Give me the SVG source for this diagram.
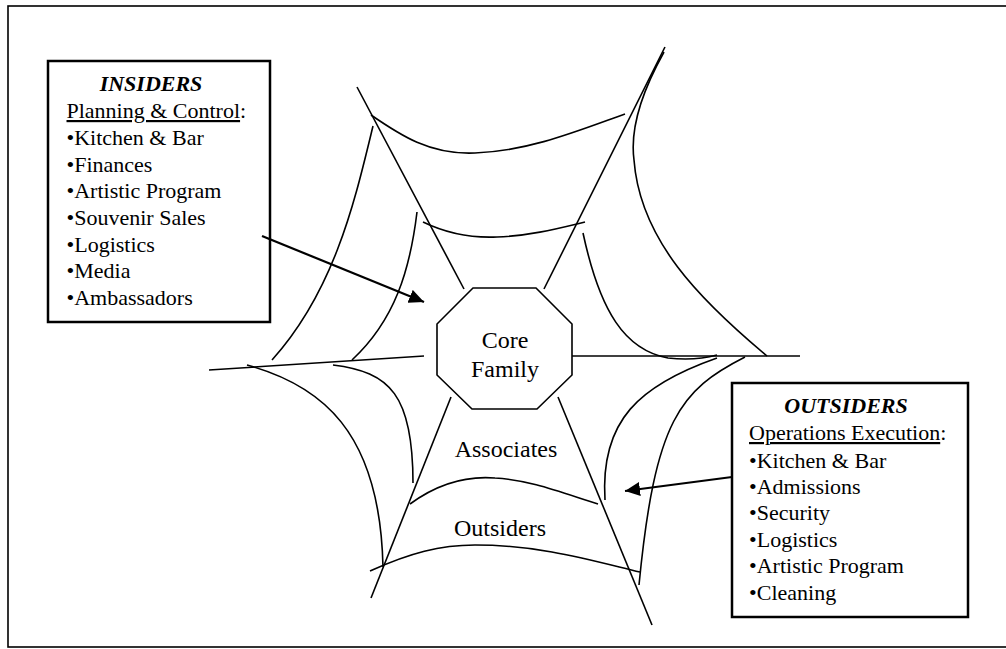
<svg xmlns="http://www.w3.org/2000/svg" width="1006" height="649" viewBox="0 0 1006 649">
<defs>
<style>
.web{fill:none;stroke:#000;stroke-width:1.6}
.box{fill:#fff;stroke:#000;stroke-width:2.5}
.arrow{fill:none;stroke:#000;stroke-width:2.2}
text{font-family:'Liberation Serif','DejaVu Serif',serif;fill:#000}
.t{font-size:22px}
.h{font-weight:bold;font-style:italic}
.c{font-size:24px;text-anchor:middle}
</style>
<marker id="ah" markerUnits="userSpaceOnUse" markerWidth="16" markerHeight="14" refX="15" refY="7" orient="auto">
<path d="M0,0 L15,7 L0,14 Z" fill="#000"/>
</marker>
</defs>
<rect x="0" y="0" width="1006" height="649" fill="#fff"/>
<rect x="8" y="6" width="1010" height="641" fill="none" stroke="#000" stroke-width="1.6"/>
<g id="web">
<path class="web" d="M357,87 L464,289"/>
<path class="web" d="M665,47 L544,289"/>
<path class="web" d="M572,356 L800,356"/>
<path class="web" d="M209,370 L424,356"/>
<path class="web" d="M451,397 L371,598"/>
<path class="web" d="M558,397 L652,625"/>
<path class="web" d="M371,115 C400,135 430,155 475,153 C530,151 580,130 625,114"/>
<path class="web" d="M423,222 C450,235 475,238 497,237 C530,236 560,228 585,222"/>
<path class="web" d="M373,126 C355,200 335,290 272,360"/>
<path class="web" d="M417,212 C410,270 395,320 352,360"/>
<path class="web" d="M247,365 C320,385 380,430 383,567"/>
<path class="web" d="M333,365 C390,372 413,395 413,483"/>
<path class="web" d="M410,504 C440,482 470,476 495,478 C530,480 560,492 598,504"/>
<path class="web" d="M370,571 C410,553 440,545 475,545 C540,545 590,560 640,572"/>
<path class="web" d="M717,358 C640,385 600,420 605,500"/>
<path class="web" d="M745,357 C680,390 655,420 639,585"/>
<path class="web" d="M583,233 C600,312 625,350 668,358 Q695,361 717,355"/>
<path class="web" d="M664,52 C640,95 630,130 634,160 C640,240 700,300 767,356"/>
</g>
<g id="core">
<polygon points="473,288 536,288 572,324 572,375 537,409 472,409 437,375 437,324" fill="#fff" stroke="#000" stroke-width="1.6"/>
<text class="c" x="505" y="348" font-family="Liberation Serif, serif">Core</text>
<text class="c" x="505" y="377" font-family="Liberation Serif, serif">Family</text>
</g>
<g id="ring-labels">
<text class="c" x="506" y="457">Associates</text>
<text class="c" x="500" y="536">Outsiders</text>
</g>
<g id="insiders">
<rect class="box" x="48" y="61" width="222" height="261"/>
<text class="t h" x="151" y="91" text-anchor="middle">INSIDERS</text>
<text class="t" x="66.5" y="118"><tspan text-decoration="underline">Planning &amp; Control</tspan>:</text>
<text class="t" x="66.5" y="145">•Kitchen &amp; Bar</text>
<text class="t" x="66.5" y="172">•Finances</text>
<text class="t" x="66.5" y="198">•Artistic Program</text>
<text class="t" x="66.5" y="225">•Souvenir Sales</text>
<text class="t" x="66.5" y="252">•Logistics</text>
<text class="t" x="66.5" y="278">•Media</text>
<text class="t" x="66.5" y="305">•Ambassadors</text>
</g>
<g id="outsiders">
<rect class="box" x="732" y="383" width="236" height="234"/>
<text class="t h" x="846" y="413" text-anchor="middle">OUTSIDERS</text>
<text class="t" x="749" y="440"><tspan text-decoration="underline">Operations Execution</tspan>:</text>
<text class="t" x="749" y="468">•Kitchen &amp; Bar</text>
<text class="t" x="749" y="494">•Admissions</text>
<text class="t" x="749" y="520">•Security</text>
<text class="t" x="749" y="547">•Logistics</text>
<text class="t" x="749" y="573">•Artistic Program</text>
<text class="t" x="749" y="600">•Cleaning</text>
</g>
<g id="connectors">
<path class="arrow" d="M262,236 L424,302" marker-end="url(#ah)"/>
<path class="arrow" d="M732,477 L625,491" marker-end="url(#ah)"/>
</g>
</svg>
